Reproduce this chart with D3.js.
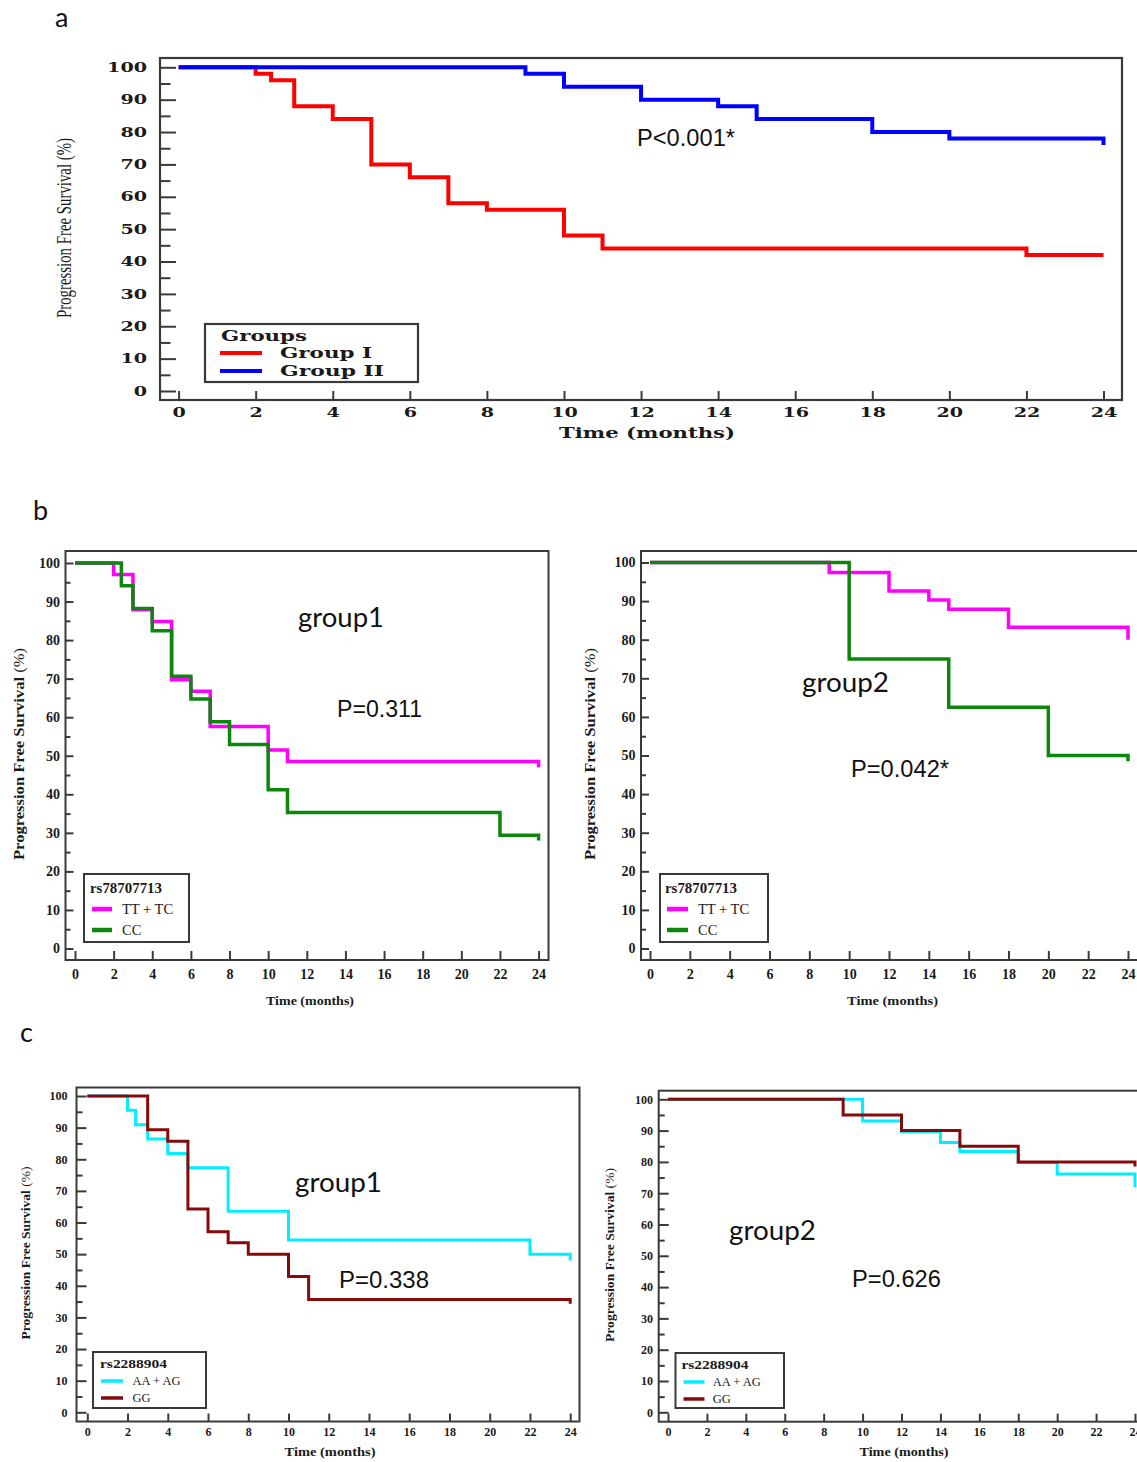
<!DOCTYPE html>
<html>
<head>
<meta charset="utf-8">
<script src="https://cdn.jsdelivr.net/npm/d3@7"></script>
<style>
  body { margin: 0; background: #fff; }
  svg { display: block; }
</style>
</head>
<body>
<div id="fig"></div>
<script>
// shared axis ticks
var monthTicks = [0, 2, 4, 6, 8, 10, 12, 14, 16, 18, 20, 22, 24];
var pctTicks = [0, 10, 20, 30, 40, 50, 60, 70, 80, 90, 100];
var pctMinor = [5, 15, 25, 35, 45, 55, 65, 75, 85, 95];

// panel a: Group I vs Group II (last point = censor mark at 24)
var aGroup1Time = [0, 2, 2.4, 3, 4, 5, 6, 7, 8, 10, 11, 22, 24];
var aGroup1Surv = [100, 98, 96, 88, 84, 70, 66, 58, 56, 48, 44, 42, 42];
var aGroup2Time = [0, 9, 10, 12, 14, 15, 18, 20, 24, 24];
var aGroup2Surv = [100, 98, 94, 90, 88, 84, 80, 78, 78, 76];
var aLegend = ["Group I", "Group II"];

// panel b: rs78707713
var bG1TtTime = [0, 2, 3, 4, 5, 6, 7, 10, 11, 24, 24];
var bG1TtSurv = [100, 97, 87.9, 84.8, 69.7, 66.7, 57.6, 51.5, 48.5, 48.5, 47];
var bG1CcTime = [0, 2.4, 3, 4, 5, 6, 7, 8, 10, 11, 22, 24, 24];
var bG1CcSurv = [100, 94.1, 88.2, 82.4, 70.6, 64.7, 58.8, 52.9, 41.2, 35.3, 29.4, 29.4, 28];
var bG2TtTime = [0, 9, 12, 14, 15, 18, 24, 24];
var bG2TtSurv = [100, 97.4, 92.6, 90.3, 87.9, 83.2, 83.2, 80];
var bG2CcTime = [0, 10, 15, 20, 24, 24];
var bG2CcSurv = [100, 75, 62.5, 50, 50, 48.5];
var bLegend = ["TT + TC", "CC"];

// panel c: rs2288904
var cG1AaTime = [0, 2, 2.4, 3, 4, 5, 7, 10, 22, 24, 24];
var cG1AaSurv = [100, 95.5, 90.9, 86.4, 81.8, 77.3, 63.6, 54.5, 50, 50, 48];
var cG1GgTime = [0, 3, 4, 5, 6, 7, 8, 10, 11, 24, 24];
var cG1GgSurv = [100, 89.3, 85.7, 64.3, 57.1, 53.6, 50, 42.9, 35.7, 35.7, 34.3];
var cG2AaTime = [0, 10, 12, 14, 15, 18, 20, 24, 24];
var cG2AaSurv = [100, 93.1, 89.7, 86.2, 83.3, 79.8, 76.1, 76.1, 72];
var cG2GgTime = [0, 9, 12, 15, 18, 24, 24];
var cG2GgSurv = [100, 95, 90, 85, 80, 80, 78.5];
var cLegend = ["AA + AG", "GG"];

var frameColor = "#3a3a3a";
var textColor = "#1a1a1a";

var svg = d3.select("#fig").append("svg")
  .attr("width", 1137)
  .attr("height", 1462);

function fit(sel, len) {
  if (len) sel.attr("textLength", len).attr("lengthAdjust", "spacingAndGlyphs");
  return sel;
}

function drawPanel(p) {
  var x = d3.scaleLinear().domain([0, 24]).range(p.xRange);
  var y = d3.scaleLinear().domain([0, 100]).range(p.yRange);
  var g = svg.append("g");

  // axes with inward ticks, sitting on the frame
  var yMajor = g.append("g")
    .attr("transform", "translate(" + p.frame[0] + ",0)")
    .call(d3.axisLeft(y).tickValues(pctTicks).tickSize(-p.yTick[0]).tickPadding(p.yPad));
  var yMin = g.append("g")
    .attr("transform", "translate(" + p.frame[0] + ",0)")
    .call(d3.axisLeft(y).tickValues(pctMinor).tickSize(-p.yTick[1]).tickFormat(""));
  var xAx = g.append("g")
    .attr("transform", "translate(0," + p.frame[3] + ")")
    .call(d3.axisBottom(x).tickValues(monthTicks).tickSize(-p.xTick).tickPadding(p.xPad));

  [yMajor, yMin, xAx].forEach(function(a) {
    a.select(".domain").remove();
    a.selectAll("line").attr("stroke", frameColor).attr("stroke-width", p.tickW);
    a.selectAll("text")
      .attr("fill", textColor)
      .style("font-family", p.tickFont.family)
      .style("font-weight", "bold")
      .style("font-size", p.tickFont.size + "px");
    if (p.tickFont.perChar) {
      a.selectAll("text")
        .attr("textLength", function(d) { return String(d).length * p.tickFont.perChar; })
        .attr("lengthAdjust", "spacingAndGlyphs");
    }
  });

  // frame
  g.append("rect")
    .attr("x", p.frame[0])
    .attr("y", p.frame[1])
    .attr("width", p.frame[2] - p.frame[0])
    .attr("height", p.frame[3] - p.frame[1])
    .attr("fill", "none")
    .attr("stroke", frameColor)
    .attr("stroke-width", p.frameW);

  // survival curves
  var line = d3.line()
    .x(function(d) { return x(d[0]); })
    .y(function(d) { return y(d[1]); })
    .curve(d3.curveStepAfter);

  p.series.forEach(function(s) {
    g.append("path")
      .datum(d3.zip(s.time, s.surv))
      .attr("d", line)
      .attr("fill", "none")
      .attr("stroke", s.color)
      .attr("stroke-width", p.lineW)
      .attr("stroke-linejoin", "miter");
  });

  // axis titles
  var yl = g.append("text")
    .attr("transform", "translate(" + p.yLabel.x + "," + p.yLabel.y + ") rotate(-90)")
    .attr("text-anchor", "middle")
    .attr("dy", "0.35em")
    .attr("fill", textColor)
    .style("font-family", p.yLabel.family)
    .style("font-size", p.yLabel.size + "px");
  if (p.yLabel.bold) {
    yl.append("tspan").style("font-weight", "bold").text("Progression Free Survival ");
    yl.append("tspan").text("(%)");
  } else {
    yl.text("Progression Free Survival (%)");
  }
  fit(yl, p.yLabel.len);

  fit(g.append("text")
    .attr("x", p.xLabel.x)
    .attr("y", p.xLabel.y)
    .attr("text-anchor", "middle")
    .attr("fill", textColor)
    .style("font-family", p.xLabel.family)
    .style("font-weight", "bold")
    .style("font-size", p.xLabel.size + "px")
    .text("Time (months)"), p.xLabel.len);

  // legend
  var L = p.legend;
  g.append("rect")
    .attr("x", L.box[0]).attr("y", L.box[1])
    .attr("width", L.box[2] - L.box[0]).attr("height", L.box[3] - L.box[1])
    .attr("fill", "#fff")
    .attr("stroke", frameColor)
    .attr("stroke-width", p.frameW);
  fit(g.append("text")
    .attr("x", L.title[0]).attr("y", L.title[1])
    .attr("fill", textColor)
    .style("font-family", L.family)
    .style("font-weight", "bold")
    .style("font-size", L.titleSize + "px")
    .text(L.titleText), L.titleLen);
  L.labels.forEach(function(lab, i) {
    g.append("line")
      .attr("x1", L.lineX[0]).attr("x2", L.lineX[1])
      .attr("y1", L.rowY[i]).attr("y2", L.rowY[i])
      .attr("stroke", p.series[i].color)
      .attr("stroke-width", L.lineW);
    fit(g.append("text")
      .attr("x", L.textX).attr("y", L.rowY[i])
      .attr("dy", "0.35em")
      .attr("fill", textColor)
      .style("font-family", L.family)
      .style("font-weight", L.bold ? "bold" : "normal")
      .style("font-size", L.size + "px")
      .text(lab), L.lens ? L.lens[i] : null);
  });

  // group name and p value
  if (p.group) {
    fit(g.append("text")
      .attr("x", p.group.x).attr("y", p.group.y)
      .attr("fill", "#111")
      .style("font-family", "Lato, 'Open Sans', sans-serif")
      .style("font-size", "26px")
      .text(p.group.text), p.group.len);
  }
  fit(g.append("text")
    .attr("x", p.pval.x).attr("y", p.pval.y)
    .attr("fill", "#111")
    .style("font-family", "'Liberation Sans', Arial, sans-serif")
    .style("font-size", "23px")
    .text(p.pval.text), p.pval.len);
}

var wideSerif = "'DejaVu Serif', serif";
var serif = "'Liberation Serif', 'Times New Roman', serif";

var bTick = { family: serif, size: 14 };
var cTick = { family: serif, size: 12 };

var panels = [
  {
    frame: [160, 58, 1122, 400], xRange: [178.6, 1103.5], yRange: [391, 67.3],
    yTick: [16, 10.5], xTick: 9, yPad: 13, xPad: 7.5, tickW: 2,
    tickFont: { family: wideSerif, size: 13, perChar: 13.3 },
    frameW: 2.2, lineW: 4,
    series: [
      { time: aGroup1Time, surv: aGroup1Surv, color: "#ff0000" },
      { time: aGroup2Time, surv: aGroup2Surv, color: "#0000ff" }
    ],
    yLabel: { x: 64, y: 228, size: 20, family: serif, bold: false, len: 180 },
    xLabel: { x: 647, y: 438, size: 14, family: wideSerif, len: 176 },
    legend: {
      box: [205, 324, 418, 382], title: [221, 341], titleText: "Groups", titleLen: 86,
      titleSize: 14, family: wideSerif, bold: true, size: 14, labels: aLegend, lens: [92, 104],
      lineX: [220, 262], rowY: [353, 371], textX: 280, lineW: 4
    },
    pval: { x: 637, y: 146, text: "P<0.001*", len: 98 }
  },
  {
    frame: [65.5, 551, 548.5, 960], xRange: [75, 538.6], yRange: [948.5, 563],
    yTick: [8, 5], xTick: 9, yPad: 5.5, xPad: 9, tickW: 2,
    tickFont: bTick, frameW: 2, lineW: 3.5,
    series: [
      { time: bG1TtTime, surv: bG1TtSurv, color: "#ff00ff" },
      { time: bG1CcTime, surv: bG1CcSurv, color: "#0e860e" }
    ],
    yLabel: { x: 19, y: 754, size: 14, family: serif, bold: true, len: 212 },
    xLabel: { x: 310, y: 1004.5, size: 13, family: serif, len: 88 },
    legend: {
      box: [84, 874, 189, 942], title: [90, 893], titleText: "rs78707713", titleLen: 72,
      titleSize: 15, family: serif, bold: false, size: 14.5, labels: bLegend,
      lineX: [92, 112], rowY: [909, 930], textX: 122, lineW: 4.5
    },
    group: { x: 298, y: 627, text: "group1", len: 86 },
    pval: { x: 337, y: 717, text: "P=0.311", len: 85 }
  },
  {
    frame: [641, 551, 1139, 960], xRange: [650, 1128], yRange: [948.5, 562.5],
    yTick: [8, 5], xTick: 9, yPad: 5.5, xPad: 9, tickW: 2,
    tickFont: bTick, frameW: 2, lineW: 3.5,
    series: [
      { time: bG2TtTime, surv: bG2TtSurv, color: "#ff00ff" },
      { time: bG2CcTime, surv: bG2CcSurv, color: "#0e860e" }
    ],
    yLabel: { x: 590, y: 754, size: 14, family: serif, bold: true, len: 212 },
    xLabel: { x: 892.5, y: 1004.5, size: 13, family: serif, len: 91 },
    legend: {
      box: [660, 874, 768, 942], title: [665, 893], titleText: "rs78707713", titleLen: 72,
      titleSize: 15, family: serif, bold: false, size: 14.5, labels: bLegend,
      lineX: [667, 688], rowY: [909, 930], textX: 698, lineW: 4.5
    },
    group: { x: 802, y: 692, text: "group2", len: 87 },
    pval: { x: 851, y: 777, text: "P=0.042*", len: 98 }
  },
  {
    frame: [76.5, 1087.5, 579.5, 1421.5], xRange: [87.3, 570.2], yRange: [1412.3, 1096],
    yTick: [10, 6], xTick: 8, yPad: 9, xPad: 6, tickW: 2,
    tickFont: cTick, frameW: 2, lineW: 3,
    series: [
      { time: cG1AaTime, surv: cG1AaSurv, color: "#00eeff" },
      { time: cG1GgTime, surv: cG1GgSurv, color: "#860a0a" }
    ],
    yLabel: { x: 26, y: 1253, size: 12, family: serif, bold: true, len: 173 },
    xLabel: { x: 330, y: 1456, size: 12, family: serif, len: 91 },
    legend: {
      box: [93, 1352, 206, 1408], title: [100, 1368], titleText: "rs2288904", titleLen: 67,
      titleSize: 12.5, family: serif, bold: false, size: 12.5, labels: cLegend,
      lineX: [101, 123], rowY: [1381, 1398], textX: 132.5, lineW: 3.5
    },
    group: { x: 295, y: 1192, text: "group1", len: 87 },
    pval: { x: 339, y: 1288, text: "P=0.338", len: 90 }
  },
  {
    frame: [658.7, 1090.7, 1146, 1421.7], xRange: [668, 1135], yRange: [1412.3, 1099.3],
    yTick: [10, 6], xTick: 8, yPad: 5.7, xPad: 6, tickW: 2,
    tickFont: cTick, frameW: 2, lineW: 3,
    series: [
      { time: cG2AaTime, surv: cG2AaSurv, color: "#00eeff" },
      { time: cG2GgTime, surv: cG2GgSurv, color: "#860a0a" }
    ],
    yLabel: { x: 610, y: 1255, size: 12, family: serif, bold: true, len: 174 },
    xLabel: { x: 904, y: 1456, size: 12, family: serif, len: 89 },
    legend: {
      box: [675.5, 1353, 784, 1408], title: [681.4, 1369], titleText: "rs2288904", titleLen: 67,
      titleSize: 12.5, family: serif, bold: false, size: 12.5, labels: cLegend,
      lineX: [683.5, 704.5], rowY: [1382, 1399], textX: 712.8, lineW: 3.5
    },
    group: { x: 729, y: 1240, text: "group2", len: 87 },
    pval: { x: 852, y: 1287, text: "P=0.626", len: 89 }
  }
];

panels.forEach(drawPanel);

// panel letters
[["a", 55, 27], ["b", 33, 520], ["c", 20, 1042]].forEach(function(l) {
  svg.append("text")
    .attr("x", l[1]).attr("y", l[2])
    .attr("fill", "#111")
    .style("font-family", "Lato, 'Open Sans', sans-serif")
    .style("font-size", "27px")
    .text(l[0]);
});
</script>
</body>
</html>
